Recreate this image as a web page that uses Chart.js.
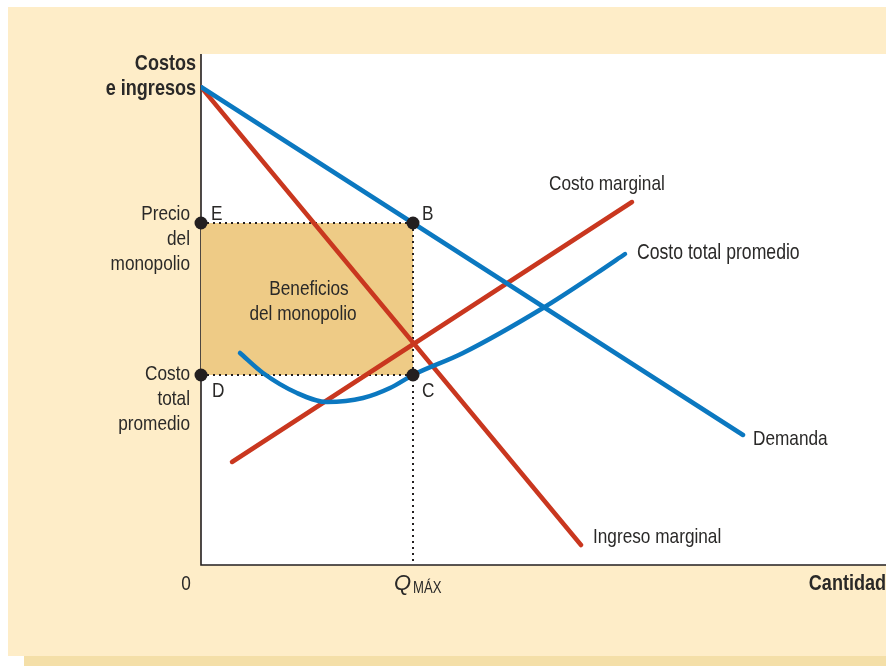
<!DOCTYPE html>
<html><head><meta charset="utf-8">
<script src="https://cdn.jsdelivr.net/npm/chart.js@4/dist/chart.umd.min.js"></script>
<style>
html,body{margin:0;padding:0;background:#fff;width:886px;height:666px;overflow:hidden}
#shadow{position:absolute;left:24px;top:17px;width:870px;height:649px;background:#f4dfa8}
#panel{position:absolute;left:8px;top:7px;width:890px;height:649px;background:#feedc8}
canvas{position:absolute;left:0;top:0}
</style></head><body>
<div id="shadow"></div><div id="panel"></div>
<canvas id="c" width="886" height="666"></canvas>
<script>
// ---- data (quantity on x, costs/revenues on y, arbitrary units) ----
const demandQ = [0, 542];
const demandP = [478, 130];
const mrQ = [0, 380];
const mrP = [478, 20];
const mcQ = [31, 431];
const mcP = [103, 363];
const atcQ = [39, 62, 96, 126, 162, 189, 212, 262, 342, 396, 424];
const atcP = [212, 192, 172, 163, 167, 177, 190, 212, 257, 292, 311];
const qMax = 212;
const monopolyPrice = 342;
const atcAtQmax = 190;
const pointLabels = ['E', 'B', 'C', 'D'];
const curveNames = ['Demanda', 'Ingreso marginal', 'Costo marginal', 'Costo total promedio'];
const priceTick = ['Precio', 'del', 'monopolio'];
const atcTick = ['Costo', 'total', 'promedio'];
const profitLabel = ['Beneficios', 'del monopolio'];
const yTitle = ['Costos', 'e ingresos'];
const xTitle = 'Cantidad';
const originTick = '0';
const qTick = ['Q', 'MÁX'];

const BLUE = '#0b78c0', RED = '#c9371f', INK = '#231f20', FILL = '#eecb86', TXT = '#2a2928';
const pts = (xs, ys) => xs.map((x, i) => ({x, y: ys[i]}));
const FONT = '"Liberation Sans", Arial, sans-serif';
const NARROW = 0.82;

function txt(ctx, str, x, y, align, font, narrow = NARROW) {
  ctx.save();
  ctx.font = font;
  ctx.textAlign = 'left';
  ctx.textBaseline = 'alphabetic';
  const w = ctx.measureText(str).width * narrow;
  let left = x;
  if (align === 'right') left = x - w;
  else if (align === 'center') left = x - w / 2;
  ctx.translate(left, y);
  ctx.scale(narrow, 1);
  ctx.fillText(str, 0, 0);
  ctx.restore();
  return w;
}

const bgPlugin = {
  id: 'bg',
  beforeDraw(chart) {
    const {ctx, chartArea: a} = chart;
    ctx.save();
    ctx.fillStyle = '#ffffff';
    ctx.fillRect(a.left, a.top, a.right - a.left, a.bottom - a.top);
    ctx.restore();
  },
  beforeDatasetsDraw(chart) {
    const {ctx, chartArea: a} = chart;
    ctx.save();
    ctx.strokeStyle = INK; ctx.lineWidth = 1.6;
    ctx.beginPath();
    ctx.moveTo(a.left, a.top); ctx.lineTo(a.left, a.bottom); ctx.lineTo(a.right, a.bottom);
    ctx.stroke();
    ctx.restore();
  }
};

const textPlugin = {
  id: 'texts',
  afterDatasetsDraw(chart) {
    const {ctx, chartArea: a, scales: {x, y}} = chart;
    const px = v => x.getPixelForValue(v), py = v => y.getPixelForValue(v);
    ctx.save();
    ctx.fillStyle = TXT;
    const reg = `21px ${FONT}`;
    const bold = `bold 22px ${FONT}`;
    txt(ctx, yTitle[0], a.left - 5, a.top + 16, 'right', bold);
    txt(ctx, yTitle[1], a.left - 5, a.top + 41, 'right', bold);
    txt(ctx, xTitle, a.right, a.bottom + 25, 'right', bold);
    priceTick.forEach((t, i) => txt(ctx, t, a.left - 11, py(monopolyPrice) - 3 + 25 * i, 'right', reg));
    atcTick.forEach((t, i) => txt(ctx, t, a.left - 11, py(atcAtQmax) + 5 + 25 * i, 'right', reg));
    txt(ctx, originTick, a.left - 15, a.bottom + 25, 'center', reg);
    txt(ctx, qTick[0], px(qMax) - 19, a.bottom + 25, 'left', `italic 22px ${FONT}`, 1);
    txt(ctx, qTick[1], px(qMax) + 0, a.bottom + 28, 'left', `16px ${FONT}`);
    txt(ctx, pointLabels[0], px(0) + 10, py(monopolyPrice) - 3, 'left', reg);
    txt(ctx, pointLabels[1], px(qMax) + 9, py(monopolyPrice) - 3, 'left', reg);
    txt(ctx, pointLabels[2], px(qMax) + 9, py(atcAtQmax) + 22, 'left', reg);
    txt(ctx, pointLabels[3], px(0) + 11, py(atcAtQmax) + 22, 'left', reg);
    const cx = (px(0) + px(qMax)) / 2 + 1, cy = (py(monopolyPrice) + py(atcAtQmax)) / 2;
    txt(ctx, profitLabel[0], cx + 1, cy - 4, 'center', reg);
    txt(ctx, profitLabel[1], cx - 5, cy + 21, 'center', reg);
    const last = arr => arr[arr.length - 1];
    txt(ctx, curveNames[0], px(last(demandQ)) + 10, py(last(demandP)) + 10, 'left', reg);
    txt(ctx, curveNames[1], px(last(mrQ)) + 12, py(last(mrP)) - 2, 'left', reg);
    txt(ctx, curveNames[2], px(last(mcQ)) - 83, py(last(mcP)) - 12, 'left', reg);
    txt(ctx, curveNames[3], px(last(atcQ)) + 12, py(last(atcP)) + 5, 'left', `21.5px ${FONT}`);
    ctx.restore();
  }
};

const dotted = {borderColor: INK, borderWidth: 2, borderDash: [2, 4], pointRadius: 0, showLine: true, fill: false};

new Chart(document.getElementById('c'), {
  type: 'scatter',
  data: {
    datasets: [
      {data: pts([0, qMax], [monopolyPrice, monopolyPrice]), ...dotted, fill: 1, backgroundColor: FILL, order: 5},
      {data: pts([0, qMax], [atcAtQmax, atcAtQmax]), ...dotted, order: 4},
      {data: pts([qMax, qMax], [monopolyPrice, 0]), ...dotted, order: 4},
      {data: pts(mrQ, mrP), showLine: true, borderColor: RED, borderWidth: 4.5, pointRadius: 0, borderCapStyle: 'round', order: 3},
      {data: pts(mcQ, mcP), showLine: true, borderColor: RED, borderWidth: 4.5, pointRadius: 0, borderCapStyle: 'round', order: 3},
      {data: pts(demandQ, demandP), showLine: true, borderColor: BLUE, borderWidth: 4.5, pointRadius: 0, borderCapStyle: 'round', order: 2},
      {data: pts(atcQ, atcP), showLine: true, borderColor: BLUE, borderWidth: 4.5, pointRadius: 0, borderCapStyle: 'round', cubicInterpolationMode: 'monotone', order: 2},
      {data: pts([0, qMax, qMax, 0], [monopolyPrice, monopolyPrice, atcAtQmax, atcAtQmax]), showLine: false, pointRadius: 6.5, pointBackgroundColor: INK, pointBorderWidth: 0, clip: false, order: 1}
    ]
  },
  options: {
    responsive: false,
    devicePixelRatio: 1,
    animation: false,
    layout: {autoPadding: false, padding: {left: 201, top: 54, right: 0, bottom: 101}},
    scales: {
      x: {type: 'linear', min: 0, max: 685, display: false},
      y: {type: 'linear', min: 0, max: 511, display: false}
    },
    plugins: {legend: {display: false}, tooltip: {enabled: false}},
    elements: {line: {tension: 0}}
  },
  plugins: [bgPlugin, textPlugin]
});
</script>
</body></html>
